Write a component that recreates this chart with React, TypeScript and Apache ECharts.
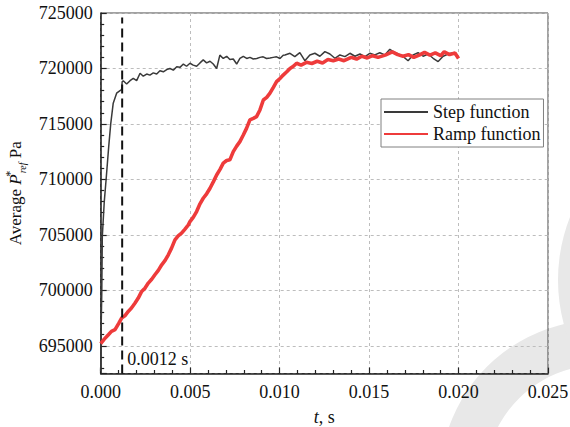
import React, { useEffect, useRef } from 'react';
import * as echarts from 'echarts';

const stepTime = [
  0, 0.00003, 0.00006, 0.00009, 0.0002, 0.0003, 0.00045, 0.00056, 0.0007, 0.00089, 0.00108, 0.00117, 0.0012,
  0.00126, 0.00145, 0.00164, 0.00182, 0.00201, 0.0022, 0.00238, 0.00257, 0.00275, 0.00294, 0.00313, 0.00331,
  0.0035, 0.00369, 0.00387, 0.00406, 0.00425, 0.00443, 0.00462, 0.0048, 0.00499, 0.00517, 0.00536, 0.00555,
  0.00573, 0.00592, 0.00611, 0.00629, 0.00648, 0.00666, 0.00685, 0.00704, 0.00722, 0.00741, 0.0076, 0.00778,
  0.00797, 0.00816, 0.00834, 0.00853, 0.00872, 0.0089, 0.00908, 0.00927, 0.00946, 0.00964, 0.00983, 0.01002,
  0.0102, 0.0103, 0.01058, 0.01085, 0.01113, 0.01141, 0.01169, 0.01197, 0.01225, 0.01253, 0.01281, 0.01309,
  0.01337, 0.01365, 0.01393, 0.01421, 0.01449, 0.01477, 0.01504, 0.01532, 0.0156, 0.01588, 0.01616, 0.01635,
  0.01663, 0.01691, 0.01718, 0.01746, 0.01774, 0.01802, 0.0183, 0.01858, 0.01886, 0.01914, 0.01942, 0.0197,
  0.01998, 0.02,
];
const stepPressure = [
  692700, 697000, 699750, 704850, 708000, 709950, 713000, 715000, 716870, 717770, 718000, 718100, 718800,
  718900, 718600, 718900, 719100, 718900, 719570, 719300, 719500, 719400, 719600, 719500, 719800,
  719700, 719900, 720000, 719850, 720150, 720100, 720400, 720200, 720470, 720300, 720200, 720500,
  720770, 720500, 720650, 720400, 720000, 721200, 720900, 721100, 720800, 720850, 720400, 720900,
  721100, 720900, 721000, 720850, 720900, 721000, 721050, 720900, 720950, 721000, 721050, 720900,
  721200, 721220, 721370, 721070, 721420, 720700, 721220, 721370, 721100, 721520, 721300, 720920,
  721220, 721070, 721370, 721100, 721300, 721070, 721370, 721220, 721420, 721220, 721730, 721520,
  721300, 721070, 720700, 721220, 721420, 721100, 721300, 720920, 720620, 721100, 721300, 721420,
  721000, 720950,
];

const rampTime = [
  0, 0.0002, 0.00043, 0.0006, 0.0008, 0.001, 0.00117, 0.00135, 0.00154, 0.00172, 0.00192, 0.0021, 0.00229,
  0.00248, 0.00266, 0.00285, 0.00303, 0.00322, 0.00341, 0.0036, 0.00378, 0.00396, 0.00415, 0.00433, 0.00452,
  0.0047, 0.0049, 0.00499, 0.00518, 0.00536, 0.00555, 0.00573, 0.00592, 0.00611, 0.0063, 0.00648, 0.00667,
  0.00685, 0.00704, 0.00722, 0.00741, 0.0076, 0.00778, 0.00797, 0.00815, 0.00834, 0.00853, 0.00871, 0.0089,
  0.00909, 0.00928, 0.00946, 0.00965, 0.00983, 0.01002, 0.0102, 0.0104, 0.01058, 0.01077, 0.01095, 0.0112,
  0.0115, 0.0118, 0.0121, 0.0124, 0.0127, 0.013, 0.0133, 0.0136, 0.014, 0.0143, 0.0146, 0.0149, 0.0152,
  0.0155, 0.0159, 0.0163, 0.0166, 0.0169, 0.0172, 0.0175, 0.0178, 0.0181, 0.0184, 0.0187, 0.019, 0.0192,
  0.0195, 0.0198, 0.02,
];
const rampPressure = [
  695200, 695600, 696000, 696300, 696450, 697000, 697500, 697700, 698100, 698400, 698850, 699300, 699900,
  700200, 700650, 701000, 701400, 701800, 702300, 702700, 703200, 703800, 704550, 704900, 705150,
  705500, 705900, 706200, 706600, 707100, 707800, 708300, 708700, 709200, 709800, 710400, 710900,
  711460, 711700, 711760, 712500, 713000, 713400, 714000, 714600, 715360, 715500, 715660, 716260,
  717160, 717400, 717770, 718300, 718810, 719100, 719400, 719700, 720000, 720200, 720470, 720300,
  720550, 720450, 720650, 720500, 720800, 720700, 720850, 720700, 721000, 720850, 721100, 720950, 721150,
  721000, 721200, 721500, 721250, 721100, 721250, 721000, 721200, 721450, 721200, 721400, 721150, 721500,
  721250, 721400, 720900,
];

const yMin = 692500;
const yMax = 725000;
const xMin = 0;
const xMax = 0.025;
const xInterval = 0.005;
const annotationT = 0.0012;
const annotationTop = 724600;
const annotationLabelP = 693800;
const seriesNames = ['Step function', 'Ramp function'];

const FONT = "'Liberation Serif', 'Times New Roman', serif";
const TXT = '#111';

export default function App() {
  const ref = useRef<HTMLDivElement>(null);
  useEffect(() => {
    if (!ref.current) return;
    const chart = echarts.init(ref.current, undefined, { renderer: 'svg' });
    const step = stepTime.map((t, i) => [t, stepPressure[i]]);
    const ramp = rampTime.map((t, i) => [t, rampPressure[i]]);
    const dash = [
      [annotationT, yMin],
      [annotationT, annotationTop],
    ];
    chart.setOption({
      animation: false,
      backgroundColor: '#fff',
      textStyle: { fontFamily: FONT },
      graphic: {
        elements: [
          { type: 'ring', z: -5, silent: true, shape: { cx: 600, cy: 480, r: 160, r0: 115 }, style: { fill: '#e8e8e8' } },
          { type: 'ring', z: -5, silent: true, shape: { cx: 729, cy: 280, r: 171, r0: 130 }, style: { fill: '#e8e8e8' } },
        ],
      },
      grid: {
        left: 100.7,
        right: 22,
        top: 13,
        bottom: 53.5,
        containLabel: false,
        outerBoundsMode: 'none',
        show: true,
        borderColor: '#444',
        borderWidth: 1,
        backgroundColor: 'transparent',
      },
      legend: {
        left: 381,
        top: 99,
        orient: 'vertical',
        itemWidth: 44,
        itemHeight: 12,
        itemGap: 4,
        padding: [4, 3, 4, 2],
        borderColor: '#808080',
        borderWidth: 1,
        borderRadius: 0,
        backgroundColor: '#fff',
        itemStyle: { opacity: 0 },
        textStyle: { fontFamily: FONT, fontSize: 18, color: TXT },
        data: seriesNames,
      },
      xAxis: {
        type: 'value',
        min: xMin,
        max: xMax,
        interval: xInterval,
        name: '{i|t}{n|, s}',
        nameLocation: 'middle',
        nameGap: 34,
        nameTextStyle: {
          fontFamily: FONT,
          fontSize: 18,
          rich: {
            i: { fontFamily: FONT, fontSize: 18, fontStyle: 'italic', color: TXT },
            n: { fontFamily: FONT, fontSize: 18, color: TXT },
          },
        },
        axisLine: { show: true, onZero: false, lineStyle: { color: '#222', width: 1.5 } },
        axisTick: { show: true, inside: true, length: 6, lineStyle: { color: '#222', width: 1.2 } },
        minorTick: { show: true, splitNumber: 5, length: 3.5, lineStyle: { color: '#222', width: 1.2 } },
        axisLabel: {
          fontFamily: FONT,
          fontSize: 18,
          color: TXT,
          margin: 9,
          formatter: (v: number) => v.toFixed(3),
        },
        splitLine: { show: true, lineStyle: { color: '#bdbdbd', type: [3, 3], width: 1 } },
      },
      yAxis: {
        type: 'value',
        min: yMin,
        max: yMax,
        splitNumber: 6,
        name: '{n|Average }{i|P}{sup|*}{sub|ref}{n| Pa}',
        nameLocation: 'middle',
        nameGap: 67,
        nameRotate: 90,
        nameTextStyle: {
          fontFamily: FONT,
          rich: {
            n: { fontFamily: FONT, fontSize: 17, color: TXT, lineHeight: 24 },
            i: { fontFamily: FONT, fontSize: 17, fontStyle: 'italic', color: TXT, lineHeight: 24 },
            sup: { fontFamily: FONT, fontSize: 12, color: TXT, lineHeight: 12, verticalAlign: 'top', width: 1 },
            sub: { fontFamily: FONT, fontSize: 10, fontStyle: 'italic', color: TXT, lineHeight: 10, verticalAlign: 'bottom' },
          },
        },
        axisLine: { show: true, onZero: false, lineStyle: { color: '#222', width: 1.5 } },
        axisTick: { show: true, inside: true, length: 6, lineStyle: { color: '#222', width: 1.2 } },
        minorTick: { show: true, splitNumber: 5, length: 3.5, lineStyle: { color: '#222', width: 1.2 } },
        axisLabel: {
          fontFamily: FONT,
          fontSize: 18,
          color: TXT,
          margin: 8,
          formatter: (v: number) => (v % 5000 === 0 ? String(v) : ''),
        },
        splitLine: { show: true, lineStyle: { color: '#bdbdbd', type: [3, 3], width: 1 } },
      },
      series: [
        {
          name: seriesNames[0],
          type: 'line',
          data: step,
          showSymbol: false,
          symbol: 'none',
          lineStyle: { color: '#3a3a3a', width: 1.5 },
          itemStyle: { color: '#3a3a3a' },
          z: 3,
          markPoint: {
            silent: true,
            symbol: 'circle',
            symbolSize: 0,
            data: [{ coord: [annotationT, annotationLabelP], value: annotationT }],
            label: {
              show: true,
              position: 'right',
              distance: 5,
              formatter: () => `${annotationT} s`,
              fontFamily: FONT,
              fontSize: 18,
              color: TXT,
            },
          },
        },
        {
          name: seriesNames[1],
          type: 'line',
          data: ramp,
          showSymbol: false,
          symbol: 'none',
          lineStyle: { color: '#ee3b3b', width: 3.6 },
          itemStyle: { color: '#ee3b3b' },
          z: 4,
        },
        {
          name: 'annotation',
          type: 'line',
          data: dash,
          showSymbol: false,
          symbol: 'none',
          silent: true,
          lineStyle: { color: '#111', type: [9, 5], width: 2 },
          z: 5,
        },
      ],
    });
    return () => chart.dispose();
  }, []);
  return (
    <div
      ref={ref}
      style={{ position: 'fixed', left: 0, top: 0, width: 570, height: 427 }}
    />
  );
}
